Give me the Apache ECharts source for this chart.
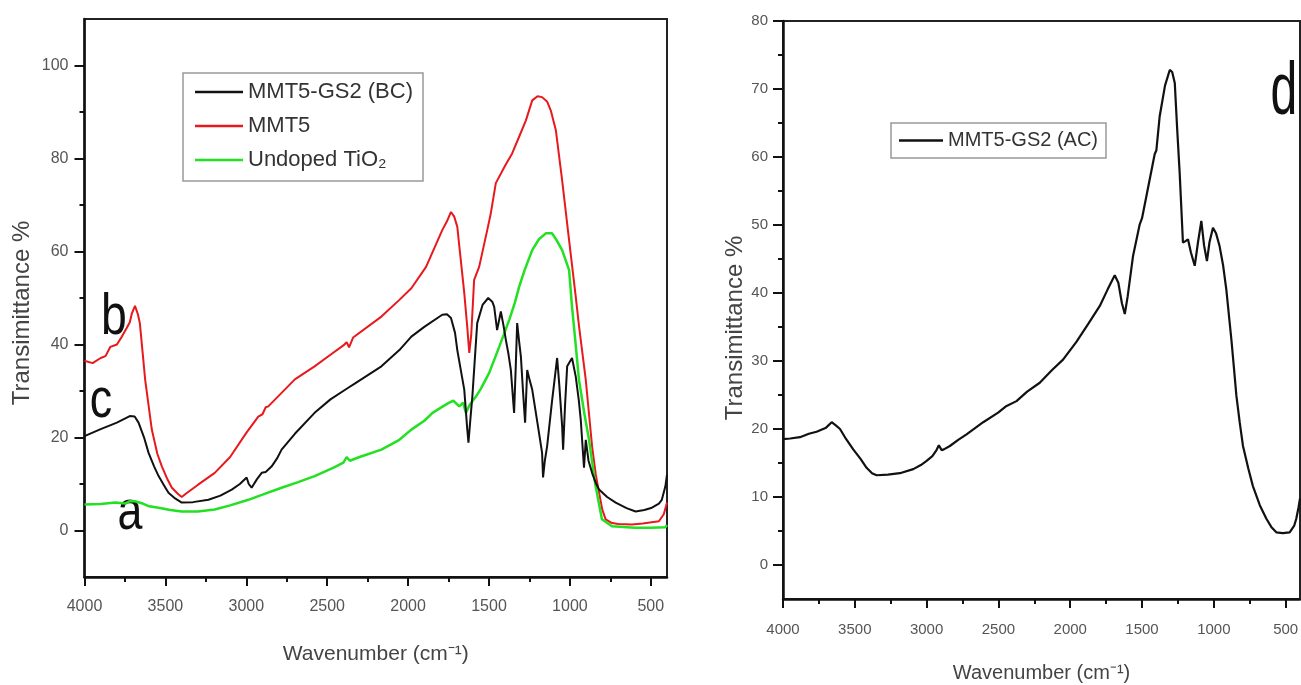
<!DOCTYPE html>
<html>
<head>
<meta charset="utf-8">
<script src="https://cdn.jsdelivr.net/npm/echarts@6/dist/echarts.min.js"></script>
<style>
html,body{margin:0;padding:0;background:#fff;}
#chart{width:1301px;height:685px;}
</style>
</head>
<body>
<div id="chart"></div>
<script>
// ---------- Data ----------
const seriesNames = ['MMT5-GS2 (BC)', 'MMT5', 'Undoped TiO\u2082', 'MMT5-GS2 (AC)'];

const bcWn = [4000,3900,3800,3720,3690,3666,3630,3604,3570,3542,3510,3481,3440,3399,3330,3234,3160,3090,3040,2998,2985,2967,2935,2905,2880,2843,2810,2782,2700,2578,2480,2370,2330,2165,2054,1980,1900,1789,1760,1735,1710,1696,1653,1635,1627,1615,1603,1573,1540,1505,1480,1468,1450,1427,1410,1396,1380,1365,1345,1335,1326,1315,1303,1290,1277,1264,1250,1233,1200,1172,1166,1155,1141,1110,1079,1065,1048,1042,1030,1017,987,964,945,933,913,902,885,863,840,820,770,717,650,594,540,493,450,432,410,400];
const bcT  = [20.3,21.8,23.2,24.6,24.5,23.2,19.8,16.7,13.8,11.7,9.8,8.1,6.9,6.0,6.1,6.6,7.5,8.8,10.0,11.4,10.0,9.2,11.0,12.4,12.6,13.8,15.5,17.4,20.8,25.3,28.2,30.7,31.6,35.3,38.8,41.7,43.8,46.4,46.5,45.7,42.5,38.8,30.3,22,18.9,24,28.8,44.6,48.5,50.0,49.2,48.1,43.1,47.1,44,41,38,34.5,25.3,35,44.6,41,37.4,30,23.2,34.5,32.5,30.3,23,16.7,11.4,15,18.1,28,37.1,31,22.4,17.4,27,35.3,37.1,33.1,28,23.8,13.5,19.5,15,12.4,10.2,8.8,7.2,6.0,4.8,4.1,4.4,4.9,5.8,6.6,9.5,12];

const mmtWn = [4000,3950,3900,3870,3840,3800,3769,3740,3720,3707,3688,3670,3658,3640,3625,3584,3550,3522,3490,3460,3420,3399,3370,3300,3195,3100,3000,2926,2900,2880,2864,2700,2578,2480,2400,2380,2365,2340,2165,2054,1980,1889,1789,1760,1735,1715,1696,1680,1653,1635,1622,1610,1592,1561,1511,1490,1458,1400,1357,1310,1272,1233,1200,1172,1140,1118,1087,1048,1005,964,944,902,863,840,820,800,779,740,700,617,550,450,420,400];
const mmtT  = [36.5,36.0,37.1,37.5,39.5,40,41.7,43.5,44.8,46.7,48.3,46.5,44.6,38,32.4,21.7,16.5,13.8,11.2,9.2,7.8,7.2,8.0,9.8,12.4,15.8,21,24.5,25.0,26.5,26.7,32.5,35.3,37.8,39.8,40.5,39.4,41.5,46,49.6,52.1,56.7,64.6,66.5,68.5,67.5,65.3,60,51.1,44,38.2,42,53.9,56.7,64.6,68,74.7,78.5,81.1,85,88.2,92.5,93.4,93.2,92.2,90.3,86.1,75.3,62.4,50.3,44,32.4,18.1,12,8.2,4.5,2.4,1.6,1.4,1.3,1.5,2.0,3.5,6];

const tioWn = [4000,3900,3810,3750,3720,3689,3640,3600,3542,3470,3399,3300,3195,3100,2987,2900,2782,2680,2578,2460,2400,2380,2360,2300,2165,2054,1980,1900,1849,1780,1746,1720,1684,1660,1643,1620,1581,1550,1499,1437,1375,1340,1314,1280,1233,1190,1149,1110,1080,1048,1020,1005,987,970,944,910,882,841,802,740,600,500,410,400];
const tioT  = [5.6,5.7,6.0,5.8,6.3,6.3,5.8,5.2,4.9,4.4,4.1,4.1,4.5,5.4,6.6,7.7,9.2,10.4,11.7,13.5,14.6,15.8,15,15.8,17.4,19.5,21.7,23.6,25.3,26.8,27.5,27.9,26.7,27.5,25.3,27,28.8,30.5,33.9,39.5,45.3,49,52.4,56,60.3,62.7,63.9,63.9,62.3,60.3,57.5,56,48.1,42,32.4,25,19.5,9.5,2.4,0.9,0.6,0.6,0.7,1.2];

const acWn = [4000,3950,3882,3820,3766,3700,3661,3630,3603,3560,3511,3460,3418,3380,3348,3270,3186,3093,3040,3000,2960,2931,2915,2895,2880,2838,2780,2722,2606,2502,2450,2374,2300,2212,2130,2050,1957,1870,1794,1740,1690,1665,1640,1620,1600,1563,1516,1500,1470,1412,1400,1377,1340,1307,1290,1272,1255,1238,1215,1200,1180,1160,1133,1110,1087,1068,1048,1030,1006,985,960,935,913,878,860,843,820,797,760,728,680,634,600,565,520,472,440,426,410,400];
const acT  = [18.5,18.6,18.8,19.3,19.6,20.2,21.0,20.5,20.0,18.5,17.0,15.6,14.3,13.5,13.2,13.3,13.5,14.1,14.7,15.3,16.0,16.9,17.6,16.9,17.0,17.5,18.4,19.2,21.0,22.4,23.3,24.1,25.5,26.8,28.6,30.2,32.8,35.6,38.1,40.5,42.6,41.5,38.5,36.9,39.5,45.4,50.1,51,54.2,60.4,61,66,70.5,72.8,72.5,70.9,64,57.7,47.4,47.6,47.9,46,44.0,47.5,50.6,47,44.7,47.5,49.6,48.8,46.9,44,40.5,33.2,29,24.9,21,17.5,14.2,11.6,8.8,6.8,5.6,4.8,4.7,4.8,5.8,6.8,8.5,9.8];

const xMajor = [4000,3500,3000,2500,2000,1500,1000,500];
const xMinor = [3750,3250,2750,2250,1750,1250,750];
const yLeftMajor = [0,20,40,60,80,100];
const yLeftMinor = [10,30,50,70,90];
const yRightMajor = [0,10,20,30,40,50,60,70,80];
const yRightMinor = [5,15,25,35,45,55,65,75];

const xTitle = 'Wavenumber (cm\u207B\u00B9)';
const yTitle = 'Transimittance %';
const panelLetters = ['b','c','a','d'];

// ---------- Build ----------
const zip = (a, b) => a.map((v, i) => [v, b[i]]);
const FONT = "'Liberation Sans', Arial, sans-serif";
const AX = '#111';
const LBL = '#555';
const plain = v => String(v);

function xAxes(grid, fs, margin, nameGap, nameSize) {
  return [
    { gridIndex: grid, type: 'value', min: 400, max: 4000, inverse: true, position: 'bottom',
      axisLine: { show: true, onZero: false, lineStyle: { color: AX, width: 2.5 } },
      axisTick: { show: true, customValues: xMajor, length: 9, lineStyle: { color: AX, width: 2 } },
      axisLabel: { customValues: xMajor, formatter: plain, margin: margin, fontSize: fs, color: LBL, fontFamily: FONT },
      splitLine: { show: false },
      name: xTitle, nameLocation: 'middle', nameGap: nameGap,
      nameTextStyle: { fontSize: nameSize, color: '#444', fontFamily: FONT } },
    { gridIndex: grid, type: 'value', min: 400, max: 4000, inverse: true, position: 'bottom',
      axisLine: { show: false, onZero: false },
      axisTick: { show: true, customValues: xMinor, length: 5, lineStyle: { color: AX, width: 2 } },
      axisLabel: { show: false }, splitLine: { show: false } }
  ];
}
function yAxes(grid, min, max, major, minor, fs, margin) {
  return [
    { gridIndex: grid, type: 'value', min: min, max: max, position: 'left',
      axisLine: { show: true, onZero: false, lineStyle: { color: AX, width: 2.5 } },
      axisTick: { show: true, customValues: major, length: 10, lineStyle: { color: AX, width: 2 } },
      axisLabel: { customValues: major, formatter: plain, margin: margin, fontSize: fs, color: LBL, fontFamily: FONT },
      splitLine: { show: false } },
    { gridIndex: grid, type: 'value', min: min, max: max, position: 'left',
      axisLine: { show: false, onZero: false },
      axisTick: { show: true, customValues: minor, length: 5, lineStyle: { color: AX, width: 2 } },
      axisLabel: { show: false }, splitLine: { show: false } }
  ];
}

const lineSeries = (name, data, color, xi, yi, w) => ({
  name: name, type: 'line', xAxisIndex: xi, yAxisIndex: yi, data: data,
  symbol: 'none', showSymbol: false, smooth: false,
  lineStyle: { color: color, width: w }, itemStyle: { color: color }
});

const RED = '#e8191c', GREEN = '#22e022', BLACK = '#111111';

const letter = (t, x, y, size, sx) => ({
  type: 'text', x: x, y: y, scaleX: sx,
  style: { text: t, font: size + "px 'Liberation Sans', sans-serif", fill: '#111', textAlign: 'center', textVerticalAlign: 'middle' }
});
const yName = (x, y, size) => ({
  type: 'text', x: x, y: y, rotation: Math.PI / 2,
  style: { text: yTitle, font: size + "px 'Liberation Sans', sans-serif", fill: '#444', textAlign: 'center', textVerticalAlign: 'middle' }
});

const option = {
  animation: false,
  backgroundColor: '#ffffff',
  grid: [
    { left: 84.5, top: 19, width: 582.5, height: 558, show: true, borderColor: '#222', borderWidth: 2, backgroundColor: 'rgba(0,0,0,0)', outerBoundsMode: 'none', containLabel: false },
    { left: 783, top: 21, width: 517, height: 578, show: true, borderColor: '#222', borderWidth: 2, backgroundColor: 'rgba(0,0,0,0)', outerBoundsMode: 'none', containLabel: false }
  ],
  xAxis: [].concat(xAxes(0, 16, 22, 67, 21), xAxes(1, 15, 23, 64, 20)),
  yAxis: [].concat(
    yAxes(0, -10, 110, yLeftMajor, yLeftMinor, 16, 16),
    yAxes(1, -5, 80, yRightMajor, yRightMinor, 15, 15)
  ),
  legend: [
    { data: seriesNames.slice(0, 3), orient: 'vertical', left: 183, top: 73,
      icon: 'rect', padding: [8, 10, 10, 12], itemGap: 12, itemWidth: 48, itemHeight: 2.5,
      borderColor: '#999', borderWidth: 1.5, backgroundColor: '#fff',
      textStyle: { fontSize: 22, color: '#333', fontFamily: FONT, lineHeight: 22 } },
    { data: [seriesNames[3]], orient: 'vertical', left: 891, top: 123,
      icon: 'rect', padding: [7, 8, 7, 8], itemWidth: 44, itemHeight: 2.5,
      borderColor: '#999', borderWidth: 1.5, backgroundColor: '#fff',
      textStyle: { fontSize: 20, color: '#333', fontFamily: FONT, lineHeight: 21 } }
  ],
  series: [
    lineSeries(seriesNames[1], zip(mmtWn, mmtT), RED, 0, 0, 2),
    lineSeries(seriesNames[2], zip(tioWn, tioT), GREEN, 0, 0, 2.5),
    lineSeries(seriesNames[0], zip(bcWn, bcT), BLACK, 0, 0, 2),
    lineSeries(seriesNames[3], zip(acWn, acT), BLACK, 2, 2, 2.2)
  ],
  graphic: [
    yName(22, 313, 24),
    yName(735, 328, 24),
    letter(panelLetters[0], 114, 318, 58, 0.8),
    letter(panelLetters[1], 101, 402, 56, 0.8),
    letter(panelLetters[2], 130, 514, 56, 0.8),
    letter(panelLetters[3], 1284, 94, 74, 0.65)
  ]
};

const chart = echarts.init(document.getElementById('chart'), null, { renderer: 'canvas' });
chart.setOption(option);
</script>
</body>
</html>
